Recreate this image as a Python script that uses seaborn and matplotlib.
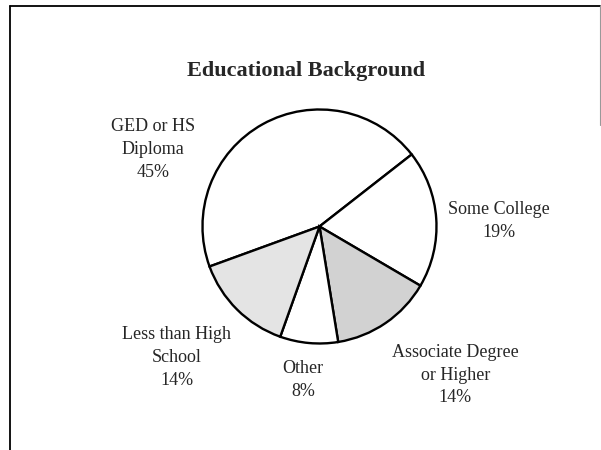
import matplotlib
matplotlib.use("Agg")
import matplotlib.pyplot as plt
from matplotlib.lines import Line2D
import seaborn as sns

sns.set_theme(style="white")
plt.rcParams["font.family"] = ["Liberation Serif", "DejaVu Serif"]

# data
categories = ["GED or HS\nDiploma", "Some College", "Associate Degree\nor Higher",
              "Other", "Less than High\nSchool"]
shares = [45, 19, 14, 8, 14]
fills = ["white", "white", "#d2d2d2", "white", "#e4e4e4"]

# label anchor positions in pie-radius units
label_pos = [(-1.42, 0.66), (1.53, 0.05), (1.16, -1.27), (-0.14, -1.31), (-1.22, -1.12)]

fig = plt.figure(figsize=(6.01, 4.5), dpi=100)
ax = fig.add_axes([0.3369, 0.2367, 0.3894, 0.52])

ax.pie(shares, colors=fills, startangle=200, counterclock=False, radius=1,
       wedgeprops=dict(edgecolor="black", linewidth=1.7))
ax.set_xlim(-1, 1)
ax.set_ylim(-1, 1)
ax.set_aspect("equal")
ax.axis("off")

for name, val, (x, y) in zip(categories, shares, label_pos):
    ax.text(x, y, f"{name}\n{val}%", ha="center", va="center", fontsize=13,
            linespacing=1.45, clip_on=False)

fig.text(306 / 601, 1 - 71 / 450, "Educational Background", ha="center", va="center",
         fontsize=16, fontweight="bold")

# frame around the slide
fig.add_artist(Line2D([10 / 601, 10 / 601], [0, 1 - 6 / 450], color="black", lw=1.3))
fig.add_artist(Line2D([10 / 601, 600 / 601], [1 - 6 / 450, 1 - 6 / 450], color="black", lw=1.3))
fig.add_artist(Line2D([599.5 / 601, 599.5 / 601], [1 - 125 / 450, 1 - 6 / 450], color="#999999", lw=0.8))

fig.savefig("out.png", dpi=100, facecolor="white")
